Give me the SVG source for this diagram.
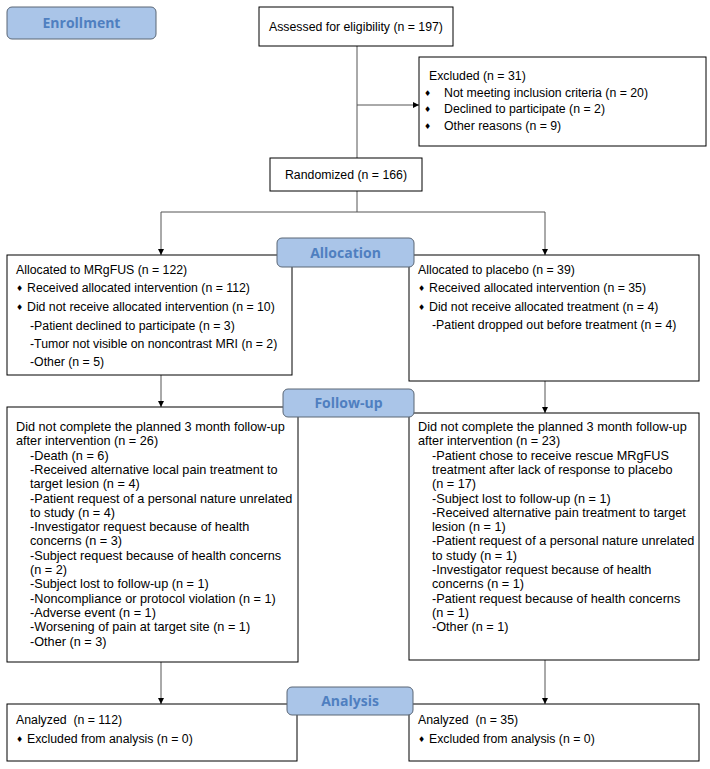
<svg xmlns="http://www.w3.org/2000/svg" width="710" height="769" viewBox="0 0 710 769">
<defs>
<marker id="arr" viewBox="0 0 10 10" refX="10" refY="5" markerWidth="6" markerHeight="6" orient="auto" markerUnits="userSpaceOnUse"><path d="M0,0 L10,5 L0,10 z" fill="#000"/></marker>
<style>
.box{fill:#fff;stroke:#000;stroke-width:1}
.lab{fill:#aac5e8;stroke:#5a6675;stroke-width:1}
.lt{font-family:"Open Sans","DejaVu Sans",sans-serif;font-weight:bold;font-size:14px;fill:#4f7fc0;text-anchor:middle}
.t{font-family:"Liberation Sans",Arial,sans-serif;font-size:12.3px;fill:#000}
.f{font-size:12.7px}
.b{font-family:"DejaVu Sans",sans-serif;font-size:8px;fill:#000}
.c{fill:none;stroke:#555;stroke-width:1}
</style>
</defs>
<rect width="710" height="769" fill="#fff"/>
<g id="connectors">
<path class="c" d="M357,46 V158"/>
<path class="c" d="M357,105 H419" marker-end="url(#arr)"/>
<path class="c" d="M357,191 V212 H161 M357,212 H545"/>
<path class="c" d="M161,212 V255" marker-end="url(#arr)"/>
<path class="c" d="M545,212 V255" marker-end="url(#arr)"/>
<path class="c" d="M161,375 V407" marker-end="url(#arr)"/>
<path class="c" d="M545,381 V413" marker-end="url(#arr)"/>
<path class="c" d="M161,662 V704" marker-end="url(#arr)"/>
<path class="c" d="M545,660 V704" marker-end="url(#arr)"/>
</g>
<g id="enrollment"><rect class="lab" x="7" y="7" width="149" height="32" rx="5"/><text class="lt" x="81.5" y="28">Enrollment</text></g>
<g id="assessed"><rect class="box" x="259" y="7" width="194" height="39"/><text class="t" x="356" y="31" text-anchor="middle">Assessed for eligibility (n = 197)</text></g>
<g id="excluded"><rect class="box" x="419" y="57" width="287" height="89"/>
<text class="t" x="429" y="80">Excluded (n = 31)</text>
<text class="b" x="424" y="96">♦</text><text class="t" x="444" y="97">Not meeting inclusion criteria (n = 20)</text>
<text class="b" x="424" y="112">♦</text><text class="t" x="444" y="113">Declined to participate (n = 2)</text>
<text class="b" x="424" y="129">♦</text><text class="t" x="444" y="130">Other reasons (n = 9)</text>
</g>
<g id="randomized"><rect class="box" x="270" y="158" width="152" height="33"/><text class="t" x="346" y="179" text-anchor="middle">Randomized (n = 166)</text></g>
<g id="alloc-left"><rect class="box" x="7" y="255" width="285" height="120"/>
<text class="t" x="16" y="274">Allocated to MRgFUS (n = 122)</text>
<text class="b" x="16" y="291">♦</text><text class="t" x="27" y="292">Received allocated intervention (n = 112)</text>
<text class="b" x="16" y="310">♦</text><text class="t" x="27" y="311">Did not receive allocated intervention (n = 10)</text>
<text class="t" x="30" y="330">-Patient declined to participate (n = 3)</text>
<text class="t" x="30" y="348">-Tumor not visible on noncontrast MRI (n = 2)</text>
<text class="t" x="30" y="366">-Other (n = 5)</text>
</g>
<g id="alloc-right"><rect class="box" x="409" y="255" width="290" height="126"/>
<text class="t" x="418" y="274">Allocated to placebo (n = 39)</text>
<text class="b" x="418" y="291">♦</text><text class="t" x="429" y="292">Received allocated intervention (n = 35)</text>
<text class="b" x="418" y="310">♦</text><text class="t" x="429" y="311">Did not receive allocated treatment (n = 4)</text>
<text class="t" x="432" y="329">-Patient dropped out before treatment (n = 4)</text>
</g>
<g id="allocation"><rect class="lab" x="277" y="238" width="137" height="29" rx="5"/><text class="lt" x="345.5" y="258">Allocation</text></g>
<g id="follow-left"><rect class="box" x="7" y="407" width="291" height="255"/>
<text class="t f" x="16" y="431">Did not complete the planned 3 month follow-up</text>
<text class="t f" x="16" y="445.3">after intervention (n = 26)</text>
<text class="t f" x="30" y="459.6">-Death (n = 6)</text>
<text class="t f" x="30" y="473.9">-Received alternative local pain treatment to</text>
<text class="t f" x="30" y="488.2">target lesion (n = 4)</text>
<text class="t f" x="30" y="502.5">-Patient request of a personal nature unrelated</text>
<text class="t f" x="30" y="516.8">to study (n = 4)</text>
<text class="t f" x="30" y="531.1">-Investigator request because of health</text>
<text class="t f" x="30" y="545.4">concerns (n = 3)</text>
<text class="t f" x="30" y="559.7">-Subject request because of health concerns</text>
<text class="t f" x="30" y="574">(n = 2)</text>
<text class="t f" x="30" y="588.3">-Subject lost to follow-up (n = 1)</text>
<text class="t f" x="30" y="602.6">-Noncompliance or protocol violation (n = 1)</text>
<text class="t f" x="30" y="616.9">-Adverse event (n = 1)</text>
<text class="t f" x="30" y="631.2">-Worsening of pain at target site (n = 1)</text>
<text class="t f" x="30" y="645.5">-Other (n = 3)</text>
</g>
<g id="follow-right"><rect class="box" x="409" y="413" width="290" height="247"/>
<text class="t f" x="418" y="431">Did not complete the planned 3 month follow-up</text>
<text class="t f" x="418" y="445.3">after intervention (n = 23)</text>
<text class="t f" x="432" y="459.6">-Patient chose to receive rescue MRgFUS</text>
<text class="t f" x="432" y="473.9">treatment after lack of response to placebo</text>
<text class="t f" x="432" y="488.2">(n = 17)</text>
<text class="t f" x="432" y="502.5">-Subject lost to follow-up (n = 1)</text>
<text class="t f" x="432" y="516.8">-Received alternative pain treatment to target</text>
<text class="t f" x="432" y="531.1">lesion (n = 1)</text>
<text class="t f" x="432" y="545.4">-Patient request of a personal nature unrelated</text>
<text class="t f" x="432" y="559.7">to study (n = 1)</text>
<text class="t f" x="432" y="574">-Investigator request because of health</text>
<text class="t f" x="432" y="588.3">concerns (n = 1)</text>
<text class="t f" x="432" y="602.6">-Patient request because of health concerns</text>
<text class="t f" x="432" y="616.9">(n = 1)</text>
<text class="t f" x="432" y="631.2">-Other (n = 1)</text>
</g>
<g id="followup"><rect class="lab" x="283" y="389" width="131" height="28" rx="5"/><text class="lt" x="348.5" y="408">Follow-up</text></g>
<g id="analysis-left"><rect class="box" x="7" y="704" width="290" height="57"/>
<text class="t" x="16" y="724">Analyzed&#160; (n = 112)</text>
<text class="b" x="16" y="742">♦</text><text class="t" x="27" y="743">Excluded from analysis (n = 0)</text>
</g>
<g id="analysis-right"><rect class="box" x="409" y="704" width="290" height="57"/>
<text class="t" x="418" y="724">Analyzed&#160; (n = 35)</text>
<text class="b" x="418" y="742">♦</text><text class="t" x="429" y="743">Excluded from analysis (n = 0)</text>
</g>
<g id="analysis"><rect class="lab" x="287" y="687" width="126" height="28" rx="5"/><text class="lt" x="350" y="706">Analysis</text></g>
</svg>
